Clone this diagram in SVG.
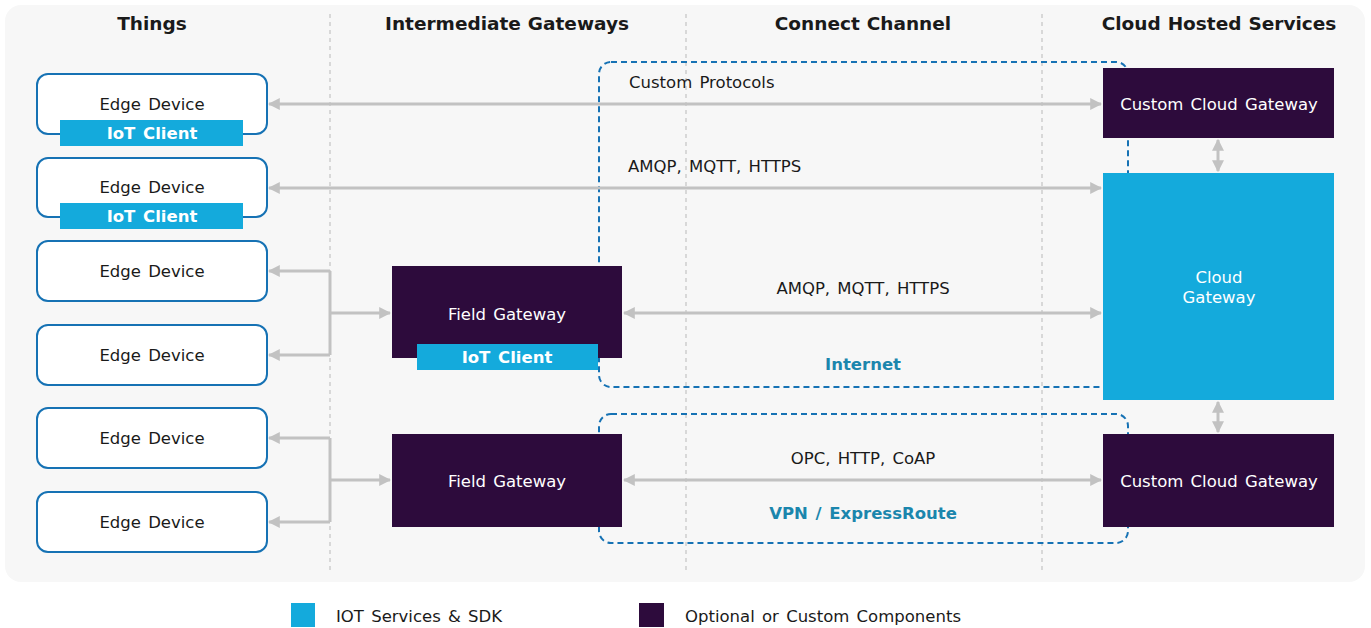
<svg xmlns="http://www.w3.org/2000/svg" width="1371" height="628" viewBox="0 0 1371 628">
  <style>
    text { font-family: "DejaVu Sans", Verdana, sans-serif; font-size: 16.5px; word-spacing: 2px; fill: #1a1a1a; }
    .hdr { font-weight: bold; font-size: 18.5px; word-spacing: 0.5px; text-anchor: middle; }
    .mid { text-anchor: middle; }
    .white { fill: #ffffff; }
    .bold { font-weight: bold; }
    .chan { font-weight: bold; fill: #1b86ad; text-anchor: middle; }
    .edge { fill: #ffffff; stroke: #1672b4; stroke-width: 2; }
    .iot { fill: #14aadc; }
    .custom { fill: #2d0b3c; }
    .divider { stroke: #c4c4c4; stroke-width: 1.2; stroke-dasharray: 4 4; fill: none; }
    .zone { fill: none; stroke: #1672b4; stroke-width: 2; stroke-dasharray: 6 4; }
    .link { stroke: #c2c2c2; stroke-width: 3; fill: none; }
  </style>
  <defs>
    <marker id="head" viewBox="0 0 10 10" refX="9" refY="5" markerWidth="12" markerHeight="12" markerUnits="userSpaceOnUse" orient="auto-start-reverse">
      <path d="M0,0 L10,5 L0,10 z" fill="#c2c2c2"/>
    </marker>
  </defs>

  <!-- canvas -->
  <rect x="5" y="5" width="1360" height="577" rx="16" fill="#f7f7f7"/>

  <!-- column dividers -->
  <g id="dividers">
    <line class="divider" x1="330" y1="14" x2="330" y2="570"/>
    <line class="divider" x1="686" y1="14" x2="686" y2="570"/>
    <line class="divider" x1="1042" y1="14" x2="1042" y2="570"/>
  </g>

  <!-- column headers -->
  <g id="headers">
    <text class="hdr" x="152" y="30">Things</text>
    <text class="hdr" x="507" y="30">Intermediate Gateways</text>
    <text class="hdr" x="863" y="30">Connect Channel</text>
    <text class="hdr" x="1219" y="30">Cloud Hosted Services</text>
  </g>

  <!-- channel zones -->
  <g id="internet">
    <rect class="zone" x="599" y="62" width="529" height="325" rx="12"/>
    <text class="chan" x="863" y="370">Internet</text>
  </g>
  <g id="vpn">
    <rect class="zone" x="599" y="414" width="529" height="129" rx="12"/>
    <text class="chan" x="863" y="519">VPN / ExpressRoute</text>
  </g>

  <!-- connectors -->
  <g id="connectors">
    <line class="link" x1="269" y1="104" x2="1101" y2="104" marker-start="url(#head)" marker-end="url(#head)"/>
    <line class="link" x1="269" y1="188" x2="1101" y2="188" marker-start="url(#head)" marker-end="url(#head)"/>
    <line class="link" x1="624" y1="313" x2="1101" y2="313" marker-start="url(#head)" marker-end="url(#head)"/>
    <line class="link" x1="624" y1="480" x2="1101" y2="480" marker-start="url(#head)" marker-end="url(#head)"/>
    <!-- field gateway fan-out, upper -->
    <path class="link" d="M330,271 L330,355"/>
    <line class="link" x1="330" y1="271" x2="269" y2="271" marker-end="url(#head)"/>
    <line class="link" x1="330" y1="355" x2="269" y2="355" marker-end="url(#head)"/>
    <line class="link" x1="330" y1="313" x2="390" y2="313" marker-end="url(#head)"/>
    <!-- field gateway fan-out, lower -->
    <path class="link" d="M330,438 L330,522"/>
    <line class="link" x1="330" y1="438" x2="269" y2="438" marker-end="url(#head)"/>
    <line class="link" x1="330" y1="522" x2="269" y2="522" marker-end="url(#head)"/>
    <line class="link" x1="330" y1="480" x2="390" y2="480" marker-end="url(#head)"/>
    <!-- cloud service links -->
    <line class="link" x1="1218" y1="140" x2="1218" y2="171" marker-start="url(#head)" marker-end="url(#head)"/>
    <line class="link" x1="1218" y1="402" x2="1218" y2="432" marker-start="url(#head)" marker-end="url(#head)"/>
  </g>

  <!-- labels on connectors -->
  <g id="protocols">
    <text x="629" y="88">Custom Protocols</text>
    <text x="628" y="172">AMQP, MQTT, HTTPS</text>
    <text class="mid" x="863" y="294">AMQP, MQTT, HTTPS</text>
    <text class="mid" x="863" y="464">OPC, HTTP, CoAP</text>
  </g>

  <!-- things -->
  <g id="edge1">
    <rect class="edge" x="37" y="74" width="230" height="60" rx="11"/>
    <text class="mid" x="152" y="110">Edge Device</text>
    <rect class="iot" x="60" y="120" width="183" height="26"/>
    <text class="mid white bold" x="152" y="139">IoT Client</text>
  </g>
  <g id="edge2">
    <rect class="edge" x="37" y="158" width="230" height="59" rx="11"/>
    <text class="mid" x="152" y="193">Edge Device</text>
    <rect class="iot" x="60" y="203" width="183" height="26"/>
    <text class="mid white bold" x="152" y="222">IoT Client</text>
  </g>
  <g id="edge3">
    <rect class="edge" x="37" y="241" width="230" height="60" rx="11"/>
    <text class="mid" x="152" y="277">Edge Device</text>
  </g>
  <g id="edge4">
    <rect class="edge" x="37" y="325" width="230" height="60" rx="11"/>
    <text class="mid" x="152" y="361">Edge Device</text>
  </g>
  <g id="edge5">
    <rect class="edge" x="37" y="408" width="230" height="60" rx="11"/>
    <text class="mid" x="152" y="444">Edge Device</text>
  </g>
  <g id="edge6">
    <rect class="edge" x="37" y="492" width="230" height="60" rx="11"/>
    <text class="mid" x="152" y="528">Edge Device</text>
  </g>

  <!-- intermediate gateways -->
  <g id="field1">
    <rect class="custom" x="392" y="266" width="230" height="92"/>
    <text class="mid white" x="507" y="320">Field Gateway</text>
    <rect class="iot" x="417" y="344" width="181" height="26"/>
    <text class="mid white bold" x="507" y="363">IoT Client</text>
  </g>
  <g id="field2">
    <rect class="custom" x="392" y="434" width="230" height="93"/>
    <text class="mid white" x="507" y="487">Field Gateway</text>
  </g>

  <!-- cloud hosted services -->
  <g id="customCloud1">
    <rect class="custom" x="1103" y="68" width="231" height="70"/>
    <text class="mid white" x="1219" y="110">Custom Cloud Gateway</text>
  </g>
  <g id="cloudGateway">
    <rect class="iot" x="1103" y="173" width="231" height="227"/>
    <text class="mid white" x="1219" y="283">Cloud</text>
    <text class="mid white" x="1219" y="303">Gateway</text>
  </g>
  <g id="customCloud2">
    <rect class="custom" x="1103" y="434" width="231" height="93"/>
    <text class="mid white" x="1219" y="487">Custom Cloud Gateway</text>
  </g>

  <!-- legend -->
  <g id="legend">
    <rect class="iot" x="291" y="603" width="24" height="24"/>
    <text x="336" y="622">IOT Services &amp; SDK</text>
    <rect class="custom" x="639" y="603" width="25" height="24"/>
    <text x="685" y="622">Optional or Custom Components</text>
  </g>
</svg>
